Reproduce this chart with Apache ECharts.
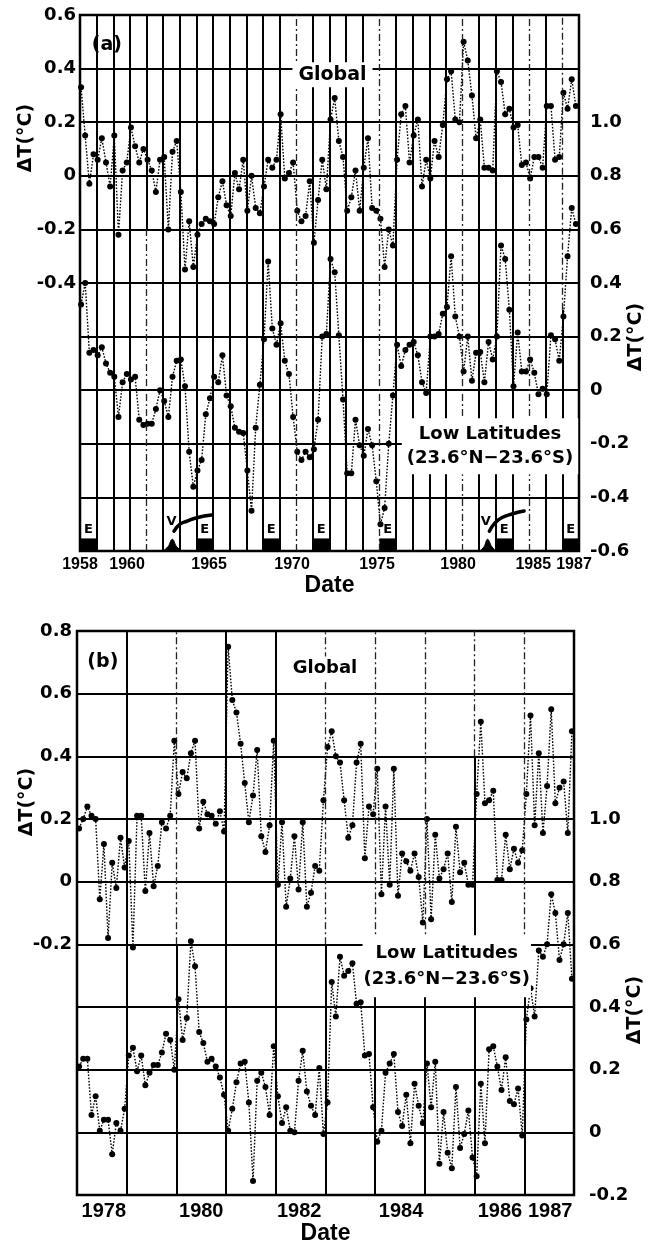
<!DOCTYPE html>
<html>
<head>
<meta charset="utf-8">
<script src="https://cdn.jsdelivr.net/npm/echarts@6/dist/echarts.min.js"></script>
<style>html,body{margin:0;padding:0;background:#fff}#c{width:656px;height:1247px}</style>
</head>
<body>
<div id="c"></div>
<script>
// ---------- Panel (a): seasonal values 1958-1987 ----------
const globalA = [
  0.33, 0.15, -0.03, 0.08, 0.06, 0.14, 0.05, -0.04, 0.15, -0.22, 0.02, 0.05,
  0.18, 0.11, 0.05, 0.10, 0.06, 0.02, -0.06, 0.06, 0.07, -0.20, 0.09, 0.13,
  -0.06, -0.35, -0.17, -0.34, -0.22, -0.18, -0.16, -0.17, -0.18, -0.08, -0.02, -0.11,
  -0.15, 0.01, -0.05, 0.06, -0.13, 0.00, -0.12, -0.14, -0.04, 0.06, 0.03, 0.06,
  0.23, -0.01, 0.01, 0.05, -0.13, -0.17, -0.15, -0.02, -0.25, -0.09, 0.06, -0.05,
  0.21, 0.29, 0.13, 0.07, -0.13, -0.08, 0.02, -0.13, 0.03, 0.14, -0.12, -0.13,
  -0.16, -0.34, -0.20, -0.26, 0.06, 0.23, 0.26, 0.05, 0.15, 0.21, -0.04, 0.06,
  -0.01, 0.13, 0.07, 0.19, 0.36, 0.39, 0.21, 0.20, 0.50, 0.43, 0.30, 0.14,
  0.21, 0.03, 0.03, 0.02, 0.39, 0.35, 0.23, 0.25, 0.18, 0.19, 0.04, 0.05,
  -0.01, 0.07, 0.07, 0.03, 0.26, 0.26, 0.06, 0.07, 0.31, 0.25, 0.36, 0.26
];
const lowLatA = [
  0.32, 0.40, 0.14, 0.15, 0.13, 0.16, 0.10, 0.065, 0.05, -0.10, 0.03, 0.06,
  0.04, 0.05, -0.11, -0.13, -0.125, -0.125, -0.07, 0.00, -0.04, -0.10, 0.05, 0.11,
  0.115, 0.015, -0.23, -0.36, -0.30, -0.26, -0.09, -0.03, 0.05, 0.03, 0.13, -0.02,
  -0.06, -0.14, -0.155, -0.16, -0.30, -0.45, -0.14, 0.02, 0.19, 0.48, 0.23, 0.17,
  0.25, 0.11, 0.06, -0.10, -0.23, -0.26, -0.23, -0.25, -0.22, -0.11, 0.20, 0.21,
  0.49, 0.44, 0.205, -0.035, -0.31, -0.31, -0.11, -0.205, -0.245, -0.145, -0.205, -0.34,
  -0.50, -0.44, -0.20, -0.02, 0.17, 0.09, 0.15, 0.17, 0.18, 0.13, 0.03, -0.01,
  0.20, 0.20, 0.21, 0.285, 0.31, 0.50, 0.275, 0.20, 0.07, 0.20, 0.035, 0.14,
  0.143, 0.03, 0.18, 0.115, 0.20, 0.54, 0.49, 0.30, 0.015, 0.215, 0.07, 0.07,
  0.115, 0.065, -0.015, 0.005, -0.015, 0.205, 0.19, 0.11, 0.275, 0.50, 0.68, 0.62
];
const startA = 1958, perYearA = 4;

// ---------- Panel (b): monthly values 1978-1987 ----------
const globalB = [
  0.17, 0.20, 0.24, 0.21, 0.20, -0.056, 0.12, -0.18, 0.06, -0.02, 0.14, 0.045,
  0.13, -0.21, 0.21, 0.21, -0.03, 0.155, -0.015, 0.05, 0.19, 0.17, 0.21, 0.45,
  0.28, 0.35, 0.33, 0.41, 0.45, 0.17, 0.255, 0.215, 0.21, 0.185, 0.225, 0.16,
  0.75, 0.58, 0.54, 0.44, 0.315, 0.19, 0.275, 0.42, 0.145, 0.095, 0.18, 0.45,
  -0.01, 0.19, -0.08, 0.01, 0.145, -0.025, 0.19, -0.08, -0.035, 0.05, 0.035, 0.26,
  0.43, 0.48, 0.40, 0.38, 0.26, 0.14, 0.18, 0.38, 0.44, 0.075, 0.24, 0.215,
  0.36, -0.04, 0.24, -0.01, 0.36, -0.045, 0.09, 0.065, 0.035, 0.09, 0.015, -0.13,
  0.20, -0.12, 0.15, 0.01, 0.04, 0.09, -0.065, 0.175, 0.03, 0.06, -0.01, -0.01,
  0.28, 0.51, 0.25, 0.26, 0.29, 0.005, 0.005, 0.15, 0.04, 0.105, 0.06, 0.10,
  0.28, 0.53, 0.18, 0.41, 0.155, 0.305, 0.55, 0.25, 0.30, 0.32, 0.155, 0.48
];
const lowLatB = [
  0.21, 0.235, 0.235, 0.055, 0.115, 0.005, 0.04, 0.04, -0.07, 0.03, 0.005, 0.075,
  0.245, 0.27, 0.195, 0.245, 0.15, 0.19, 0.215, 0.215, 0.255, 0.315, 0.295, 0.20,
  0.425, 0.295, 0.365, 0.61, 0.53, 0.32, 0.285, 0.225, 0.235, 0.21, 0.175, 0.12,
  0.005, 0.075, 0.16, 0.22, 0.225, 0.095, -0.155, 0.165, 0.19, 0.145, 0.055, 0.275,
  0.115, 0.03, 0.08, 0.005, 0.00, 0.165, 0.26, 0.13, 0.085, 0.055, 0.205, -0.005,
  0.095, 0.48, 0.37, 0.56, 0.50, 0.515, 0.54, 0.41, 0.415, 0.245, 0.25, 0.08,
  -0.03, 0.005, 0.19, 0.22, 0.25, 0.065, 0.02, 0.12, -0.035, 0.155, 0.085, 0.03,
  0.22, 0.08, 0.225, -0.10, 0.065, -0.065, -0.115, 0.145, -0.05, -0.005, 0.07, -0.08,
  -0.14, 0.155, -0.035, 0.265, 0.275, 0.21, 0.135, 0.24, 0.10, 0.09, 0.14, -0.01,
  0.36, 0.46, 0.37, 0.58, 0.56, 0.60, 0.76, 0.70, 0.55, 0.60, 0.70, 0.49
];
const startB = 1978, perYearB = 12;

// ---------- Axis tick labels ----------
const yearLabelsA = ['1958', '1960', '1965', '1970', '1975', '1980', '1985', '1987'];
const yearLabelPosA = [1958.0, 1960.83, 1965.76, 1970.75, 1975.86, 1980.73, 1985.25, 1987.7];
const yearLabelsB = ['1978', '1980', '1982', '1984', '1986', '1987'];
const yearLabelPosB = [1978.54, 1980.5, 1982.47, 1984.52, 1986.51, 1987.52];

// ---------- Annotations ----------
const elNinoA = [[1958, 1959], [1965, 1966], [1969, 1970], [1972, 1973], [1976, 1977], [1983, 1984], [1987, 1988]];
const volcanoMoundA = [
  [[1963.0, -0.6], [1963.3, -0.583], [1963.55, -0.556], [1963.8, -0.583], [1964.1, -0.6]],
  [[1982.05, -0.6], [1982.3, -0.583], [1982.5, -0.556], [1982.75, -0.583], [1983.0, -0.6]]
];
const volcanoTailA = [
  [[1963.65, -0.526], [1964.01, -0.5], [1964.42, -0.489], [1965.02, -0.476], [1965.92, -0.466]],
  [[1982.61, -0.526], [1982.95, -0.495], [1983.35, -0.476], [1983.96, -0.462], [1984.7, -0.451]]
];
const volcanoLabelA = [[1963.5, -0.49], [1982.4, -0.49]];

// vertical year lines, and the parts of them that are printed dash-dotted [year, from, to] (left-axis units)
const yearLinesA = []; for (let y = 1959; y <= 1987; y++) yearLinesA.push(y);
const dashedA = [[1962, -1.4, -0.2], [1971, -1.4, 0.6], [1976, -1.4, 0.6], [1981, -1.4, 0.6], [1985, -1.4, 0.6], [1987, -0.5, 0.6]];
const yearLinesB = []; for (let y = 1979; y <= 1987; y++) yearLinesB.push(y);
const dashedB = [[1980, -0.2, 0.8], [1983, -0.2, 0.8], [1984, -0.2, 0.8], [1985, -0.2, 0.8], [1986, 0.4, 0.8], [1987, -0.2, 0.8]];

// ---------- helpers ----------
const FONT = '"DejaVu Sans", sans-serif';
const NARROW = '"Liberation Sans", Arial, sans-serif';
function series(vals, start, per, off) {
  return vals.map((v, i) => [start + (i + off) / per, v]);
}
function nearestLabel(pos, names) {
  return function (v) {
    let b = 0;
    for (let i = 1; i < pos.length; i++) if (Math.abs(pos[i] - v) < Math.abs(pos[b] - v)) b = i;
    return names[b];
  };
}
function fmt(v) {
  const r = Math.round(v * 10) / 10;
  return r === 0 ? '0' : r.toFixed(1);
}
const SOLID = { type: 'solid', width: 2, color: '#000' };
const DASH = { type: [7, 3, 2, 3], width: 1.3, color: '#222' };
function vSegments(years, dashed, lo, hi) {
  const out = [];
  const seg = (x, a, b, d) => out.push([{ coord: [x, a], lineStyle: d ? DASH : SOLID }, { coord: [x, b] }]);
  years.forEach(y => {
    const d = dashed.find(s => s[0] === y);
    if (!d) { seg(y, lo, hi, false); return; }
    if (d[1] > lo) seg(y, lo, d[1], false);
    seg(y, d[1], d[2], true);
    if (d[2] < hi) seg(y, d[2], hi, false);
  });
  return out;
}
const dataStyle = {
  type: 'line', symbol: 'circle', symbolSize: 6, showSymbol: true,
  itemStyle: { color: '#000' },
  lineStyle: { color: '#000', width: 1.4, type: [1.6, 1.6] },
  z: 3
};
function textSeries(xi, yi, items) {
  return {
    type: 'scatter', xAxisIndex: xi, yAxisIndex: yi, symbol: 'rect', symbolSize: 1, z: 20, silent: true,
    itemStyle: { color: 'rgba(255,255,255,0)', opacity: 1 },
    data: items.map(it => ({
      value: it.at,
      label: Object.assign({
        show: true, position: 'inside', formatter: it.text, color: '#000', opacity: 1,
        fontFamily: FONT, fontWeight: 'bold', fontSize: 18, align: 'center', verticalAlign: 'middle'
      }, it.style || {})
    }))
  };
}

const chart = echarts.init(document.getElementById('c'), null, { renderer: 'canvas' });

const yLabelStyle = { fontFamily: FONT, fontWeight: 'bold', fontSize: 18, color: '#000' };
const xNameStyle = { fontFamily: NARROW, fontWeight: 'bold', fontSize: 23, color: '#000', verticalAlign: 'top' };

const option = {
  animation: false,
  backgroundColor: '#fff',
  textStyle: { fontFamily: FONT, color: '#000' },
  grid: [
    { left: 80, top: 15, width: 499, height: 536, show: true, borderColor: '#000', borderWidth: 2.5 },
    { left: 77, top: 631, width: 497, height: 564, show: true, borderColor: '#000', borderWidth: 2.5 }
  ],
  xAxis: [
    {
      gridIndex: 0, type: 'value', min: 1958, max: 1988,
      axisLine: { show: false }, axisTick: { show: false }, splitLine: { show: false },
      axisLabel: {
        customValues: yearLabelPosA, formatter: nearestLabel(yearLabelPosA, yearLabelsA),
        hideOverlap: false, showMinLabel: true, showMaxLabel: true,
        fontFamily: NARROW, fontWeight: 'bold', fontSize: 16, margin: 6, color: '#000'
      },
      name: 'Date', nameLocation: 'middle', nameGap: 21, nameTextStyle: xNameStyle
    },
    {
      gridIndex: 1, type: 'value', min: 1978, max: 1988,
      axisLine: { show: false }, axisTick: { show: false }, splitLine: { show: false },
      axisLabel: {
        customValues: yearLabelPosB, formatter: nearestLabel(yearLabelPosB, yearLabelsB),
        hideOverlap: false, showMinLabel: true, showMaxLabel: true,
        fontFamily: NARROW, fontWeight: 'bold', fontSize: 20, margin: 6, color: '#000'
      },
      name: 'Date', nameLocation: 'middle', nameGap: 27, nameTextStyle: xNameStyle
    }
  ],
  yAxis: [
    {
      gridIndex: 0, type: 'value', min: -1.4, max: 0.6, interval: 0.2, position: 'left',
      axisLine: { show: false }, axisTick: { show: false },
      splitLine: { show: true, lineStyle: { color: '#000', width: 2.2 } },
      axisLabel: Object.assign({ margin: 4, formatter: v => (v > -0.5 ? fmt(v) : '') }, yLabelStyle)
    },
    {
      gridIndex: 0, type: 'value', min: -0.6, max: 1.4, interval: 0.2, position: 'right',
      axisLine: { show: false }, axisTick: { show: false }, splitLine: { show: false },
      axisLabel: Object.assign({ margin: 11, formatter: v => (v < 1.1 ? fmt(v) : '') }, yLabelStyle)
    },
    {
      gridIndex: 1, type: 'value', min: -1.0, max: 0.8, interval: 0.2, position: 'left',
      axisLine: { show: false }, axisTick: { show: false },
      splitLine: { show: true, lineStyle: { color: '#000', width: 2.2 } },
      axisLabel: Object.assign({ margin: 5, formatter: v => (v > -0.3 ? fmt(v) : '') }, yLabelStyle)
    },
    {
      gridIndex: 1, type: 'value', min: -0.2, max: 1.6, interval: 0.2, position: 'right',
      axisLine: { show: false }, axisTick: { show: false }, splitLine: { show: false },
      axisLabel: Object.assign({ margin: 15, formatter: v => (v < 1.1 ? fmt(v) : '') }, yLabelStyle)
    }
  ],
  series: [
    // vertical year lines
    {
      type: 'line', xAxisIndex: 0, yAxisIndex: 0, data: [], z: 1, silent: true,
      markLine: { silent: true, symbol: ['none', 'none'], label: { show: false }, animation: false, data: vSegments(yearLinesA, dashedA, -1.4, 0.6) }
    },
    {
      type: 'line', xAxisIndex: 1, yAxisIndex: 2, data: [], z: 1, silent: true,
      markLine: { silent: true, symbol: ['none', 'none'], label: { show: false }, animation: false, data: vSegments(yearLinesB, dashedB, -1.0, 0.8) }
    },
    // data
    Object.assign({ name: 'Global (a)', xAxisIndex: 0, yAxisIndex: 0, data: series(globalA, startA, perYearA, 0.25) }, dataStyle),
    Object.assign({ name: 'Low Latitudes (a)', xAxisIndex: 0, yAxisIndex: 1, data: series(lowLatA, startA, perYearA, 0.25) }, dataStyle),
    Object.assign({ name: 'Global (b)', xAxisIndex: 1, yAxisIndex: 2, data: series(globalB, startB, perYearB, 0.5) }, dataStyle),
    Object.assign({ name: 'Low Latitudes (b)', xAxisIndex: 1, yAxisIndex: 3, data: series(lowLatB, startB, perYearB, 0.5) }, dataStyle),
    // El Nino boxes
    {
      type: 'line', xAxisIndex: 0, yAxisIndex: 1, data: [], z: 6, silent: true,
      markArea: {
        silent: true, itemStyle: { color: '#000', opacity: 1 },
        label: { show: true, position: 'top', distance: 2, formatter: 'E', fontFamily: FONT, fontWeight: 'bold', fontSize: 13, color: '#000' },
        data: elNinoA.map(e => [{ xAxis: e[0], yAxis: -0.6 }, { xAxis: e[1], yAxis: -0.553 }])
      }
    },
    // volcano mounds and tails
    ...volcanoMoundA.map(m => ({
      type: 'line', xAxisIndex: 0, yAxisIndex: 1, data: m, smooth: 0.4, symbol: 'none', z: 6, silent: true,
      lineStyle: { color: '#000', width: 1 }, areaStyle: { color: '#000', opacity: 1, origin: 'start' }
    })),
    ...volcanoTailA.map(t => ({
      type: 'line', xAxisIndex: 0, yAxisIndex: 1, data: t, smooth: 0.5, symbol: 'none', z: 6, silent: true,
      lineStyle: { color: '#000', width: 3.5, cap: 'round' }
    })),
    // texts panel (a)
    textSeries(0, 0, [
      { at: [1959.62, 0.489], text: '(a)', style: { fontSize: 19 } },
      { at: [1973.18, 0.377], text: 'Global', style: { fontSize: 19, backgroundColor: '#fff', padding: [3, 6] } }
    ]),
    textSeries(0, 1, [
      { at: [1982.65, -0.209], text: 'Low Latitudes\n(23.6°N−23.6°S)', style: { fontSize: 18, lineHeight: 24, backgroundColor: '#fff', padding: [4, 5] } },
      { at: volcanoLabelA[0], text: 'V', style: { fontSize: 13 } },
      { at: volcanoLabelA[1], text: 'V', style: { fontSize: 13 } }
    ]),
    // texts panel (b)
    textSeries(1, 2, [
      { at: [1978.52, 0.70], text: '(b)', style: { fontSize: 19 } },
      { at: [1982.99, 0.68], text: 'Global', style: { fontSize: 18, backgroundColor: '#fff', padding: [3, 4] } }
    ]),
    textSeries(1, 3, [
      { at: [1985.44, 0.53], text: 'Low Latitudes\n(23.6°N−23.6°S)', style: { fontSize: 18, lineHeight: 26, backgroundColor: '#fff', padding: [5, 1] } }
    ])
  ],
  graphic: [
    { type: 'text', x: 26, y: 138, rotation: Math.PI / 2, style: { text: 'ΔT(°C)', fontFamily: FONT, fontWeight: 'bold', fontSize: 19, fill: '#000', align: 'center', verticalAlign: 'middle' } },
    { type: 'text', x: 636, y: 337, rotation: Math.PI / 2, style: { text: 'ΔT(°C)', fontFamily: FONT, fontWeight: 'bold', fontSize: 19, fill: '#000', align: 'center', verticalAlign: 'middle' } },
    { type: 'text', x: 27, y: 802, rotation: Math.PI / 2, style: { text: 'ΔT(°C)', fontFamily: FONT, fontWeight: 'bold', fontSize: 19, fill: '#000', align: 'center', verticalAlign: 'middle' } },
    { type: 'text', x: 635, y: 1010, rotation: Math.PI / 2, style: { text: 'ΔT(°C)', fontFamily: FONT, fontWeight: 'bold', fontSize: 19, fill: '#000', align: 'center', verticalAlign: 'middle' } }
  ]
};
chart.setOption(option);
</script>
</body>
</html>
